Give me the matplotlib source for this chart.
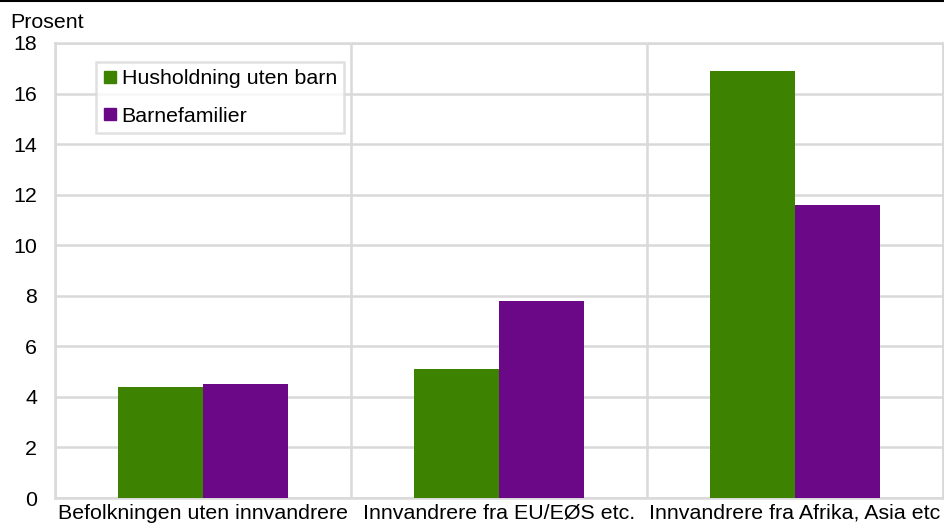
import matplotlib
matplotlib.use("Agg")
import matplotlib.pyplot as plt
import numpy as np
from matplotlib.lines import Line2D

categories = ["Befolkningen uten innvandrere", "Innvandrere fra EU/EØS etc.", "Innvandrere fra Afrika, Asia etc"]
series_names = ["Husholdning uten barn", "Barnefamilier"]
husholdning_uten_barn = [4.4, 5.1, 16.9]
barnefamilier = [4.5, 7.8, 11.6]
yticks = [0, 2, 4, 6, 8, 10, 12, 14, 16, 18]
colors = ["#3d8200", "#6a0888"]

FS = 15.4
plt.rcParams['font.family'] = ['Liberation Sans', 'DejaVu Sans']
fig = plt.figure(figsize=(9.44, 5.24), dpi=100)
ax = fig.add_axes([55/944, 26/524, 888/944, 455/524])

x = np.arange(len(categories))
w = 0.2875
ax.bar(x - w/2, husholdning_uten_barn, width=w, color=colors[0], zorder=3, label=series_names[0])
ax.bar(x + w/2, barnefamilier, width=w, color=colors[1], zorder=3, label=series_names[1])

ax.set_xlim(-0.5, len(categories) - 0.5)
ax.set_ylim(0, 18)
ax.set_yticks(yticks)
ax.set_yticklabels([str(t) for t in yticks])
ax.set_xticks(x)
ax.set_xticklabels(categories)
ax.set_xticks(np.arange(len(categories) + 1) - 0.5, minor=True)
ax.tick_params(axis='both', which='both', length=0, labelsize=FS, colors='black')
ax.tick_params(axis='y', pad=13)
ax.tick_params(axis='x', pad=4)
ax.grid(axis='y', which='major', color='#d9d9d9', linewidth=1.8, zorder=0)
ax.grid(axis='x', which='minor', color='#d9d9d9', linewidth=1.8, zorder=0)
ax.grid(axis='x', which='major', visible=False)
for s in ax.spines.values():
    s.set_color('#d9d9d9')
    s.set_linewidth(1.8)
    s.set_zorder(0)

handles = [Line2D([], [], marker='s', linestyle='none', markersize=8, color=c) for c in colors]
leg = ax.legend(handles, series_names, loc='upper left', bbox_to_anchor=(41/888, 1 - 19/455),
                fontsize=FS, frameon=True, fancybox=False, handlelength=0.6, handletextpad=0.25,
                borderpad=0.35, labelspacing=0.85, borderaxespad=0)
leg.get_frame().set_edgecolor('#d9d9d9')
leg.get_frame().set_linewidth(1.8)
leg.set_zorder(5)

fig.text(10/944, 1 - 22/524, "Prosent", fontsize=FS, va='center', ha='left')
fig.add_artist(Line2D([0, 1], [1 - 1/524, 1 - 1/524], transform=fig.transFigure, color='black', linewidth=1.5))

fig.savefig("out.png", dpi=100)
